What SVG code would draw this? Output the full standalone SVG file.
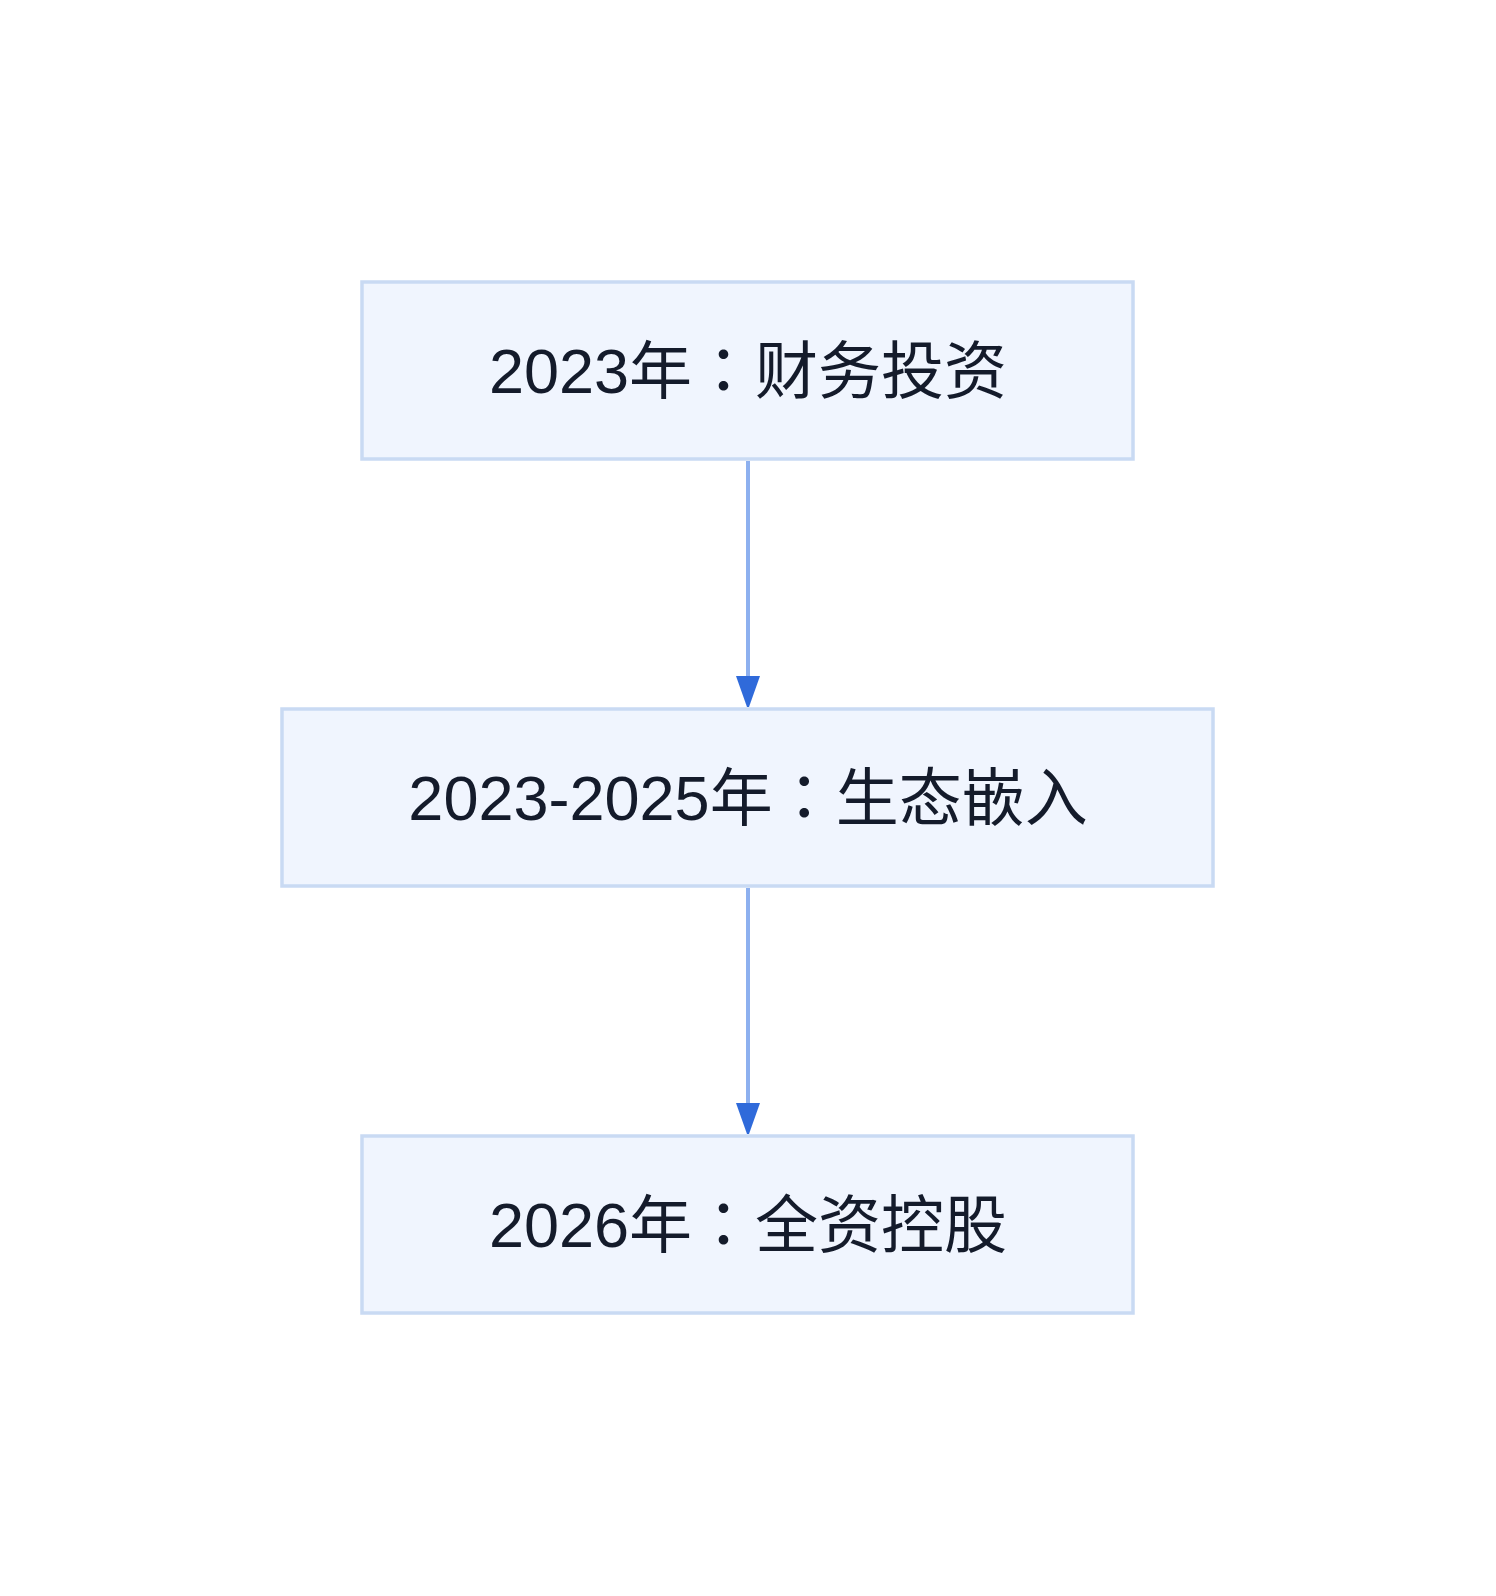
<svg xmlns="http://www.w3.org/2000/svg" width="1496" height="1596" viewBox="0 0 1496 1596">
<defs>
<style>
.box{fill:#F0F5FE;stroke:#C9DAF3;stroke-width:3.5}
.lbl{font-family:"Liberation Sans","Noto Sans CJK SC",sans-serif;font-size:63px;fill:#141B2B;text-anchor:middle}
.col{font-family:"Noto Sans CJK JP","Noto Sans CJK TC",sans-serif}
.edge{stroke:#8DB0EF;stroke-width:4;fill:none}
.head{fill:#2F6ADA}
</style>
</defs>
<rect width="1496" height="1596" fill="#FFFFFF"/>
<g id="connectors">
<g id="e1"><line class="edge" x1="748" y1="461" x2="748" y2="680"/><polygon class="head" points="736,676 760,676 749,707 747,707"/></g>
<g id="e2"><line class="edge" x1="748" y1="888" x2="748" y2="1107"/><polygon class="head" points="736,1103 760,1103 749,1134 747,1134"/></g>
</g>
<g id="n1"><rect class="box" x="362" y="282" width="771" height="177"/><text class="lbl" x="748" y="393">2023年<tspan class="col">：</tspan>财务投资</text></g>
<g id="n2"><rect class="box" x="282" y="709" width="931" height="177"/><text class="lbl" x="748" y="820">2023-2025年<tspan class="col">：</tspan>生态嵌入</text></g>
<g id="n3"><rect class="box" x="362" y="1136" width="771" height="177"/><text class="lbl" x="748" y="1247">2026年<tspan class="col">：</tspan>全资控股</text></g>
</svg>
